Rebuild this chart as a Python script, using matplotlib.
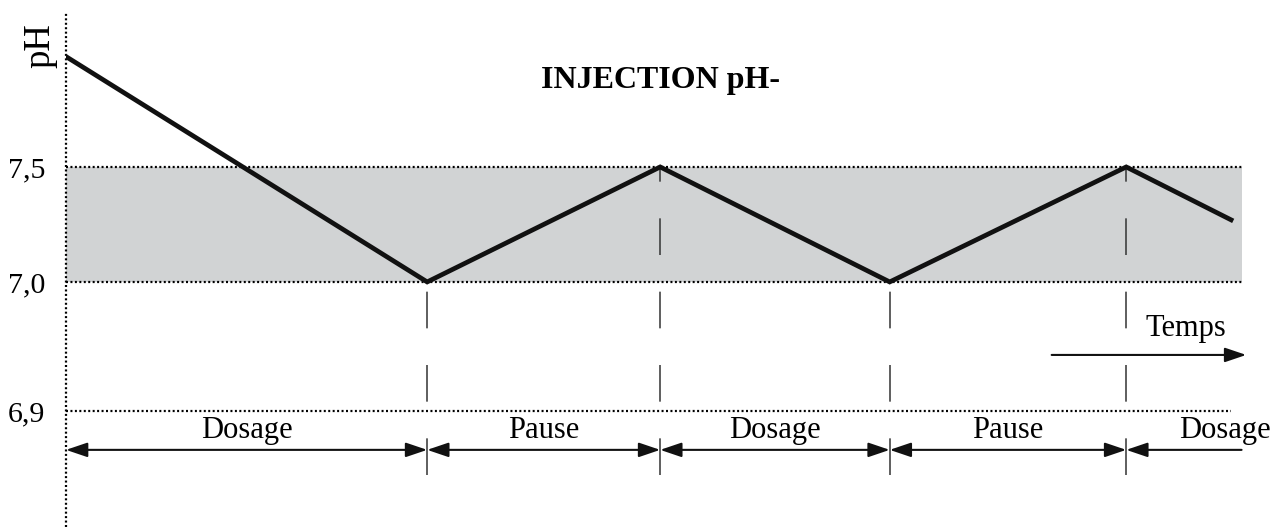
import numpy as np
import matplotlib
matplotlib.use("Agg")
import matplotlib.pyplot as plt

plt.rcParams["font.family"] = ["Liberation Serif", "DejaVu Serif"]

# schematic data
time = [0, 3.1, 5.1, 7.07, 9.1, 10.0]
ph = [7.98, 7.0, 7.5, 7.0, 7.5, 7.27]
phase_edges = [0, 3.1, 5.1, 7.07, 9.1, 10.09]
phase_labels = ["Dosage", "Pause", "Dosage", "Pause", "Dosage"]
tick_values = [6.9, 7.0, 7.5]
tick_labels = ["6,9", "7,0", "7,5"]
band_low, band_high = 7.0, 7.5
title = "INJECTION pH-"


# the pH axis is a sketch: the part below 7,0 is stretched
def fwd(p):
    p = np.asarray(p, dtype=float)
    return np.where(p >= 7.0, (p - 7.0) * 230, (p - 7.0) * 1290)


def inv(u):
    u = np.asarray(u, dtype=float)
    return np.where(u >= 0, 7.0 + u / 230, 7.0 + u / 1290)


fig = plt.figure(figsize=(12.87, 5.27), dpi=100)
ax = fig.add_axes([66 / 1287, 0, 1 - 66 / 1287, 1])
ax.set_yscale("function", functions=(fwd, inv))
ax.set_xlim(0, 10.48)
ax.set_ylim(6.81, 8.226)
for s in ax.spines.values():
    s.set_visible(False)
ax.set_xticks([])
ax.set_yticks(tick_values, labels=tick_labels, fontsize=21.5)
ax.tick_params(axis="y", length=0, pad=15)
ax.yaxis.set_minor_locator(matplotlib.ticker.NullLocator())

dots = (0, (0.9, 1.1))
t_end = phase_edges[-1]

# grey target band
ax.fill_between([0, t_end], band_low, band_high, color="#d1d3d4", lw=0, zorder=0)
ax.plot([0, t_end], [band_high, band_high], color="black", lw=1.6, ls=dots, zorder=1)
ax.plot([0, t_end], [band_low, band_low], color="black", lw=1.6, ls=dots, zorder=1)
ax.plot([0, 10.0], [tick_values[0], tick_values[0]], color="black", lw=1.6, ls=dots, zorder=1)

# vertical axis
ax.plot([0, 0], [6.81, 8.17], color="black", lw=1.6, ls=dots, clip_on=False, zorder=3)

# dashed guides at the turning points
arrow_y = 6.8698
for t, p in zip(time[1:-1], ph[1:-1]):
    ax.plot([t, t], [6.8504, p], color="#333333", lw=1.1, ls=(0, (24, 24)), zorder=2)

# pH curve
ax.plot(time, ph, color="#111111", lw=3.4, solid_joinstyle="miter", zorder=4)

# phase arrows
for i, lab in enumerate(phase_labels):
    a, b = phase_edges[i], phase_edges[i + 1]
    style = "<|-|>" if i < len(phase_labels) - 1 else "<|-"
    ax.annotate("", xy=(b, arrow_y), xytext=(a, arrow_y),
                arrowprops=dict(arrowstyle=style + ",head_length=0.65,head_width=0.22",
                                mutation_scale=20, color="#111111", lw=1.5,
                                shrinkA=0, shrinkB=0), annotation_clip=False)
    x = (a + b) / 2 if i < len(phase_labels) - 1 else a + 0.85
    ax.text(x, 6.885, lab, ha="center", va="center", fontsize=22)

# time arrow
ax.annotate("", xy=(10.13, 6.9434), xytext=(8.46, 6.9434),
            arrowprops=dict(arrowstyle="-|>,head_length=0.65,head_width=0.22",
                            mutation_scale=20, color="#111111", lw=1.5,
                            shrinkA=0, shrinkB=0))
ax.text(9.61, 6.964, "Temps", ha="center", va="center", fontsize=22)

ax.text(5.1, 7.878, title, ha="center", va="center", fontsize=23, fontweight="bold")
ax.text(-0.223, 8.03, "pH", ha="center", va="center", rotation=90, fontsize=26.5,
        clip_on=False)

fig.savefig("out.png", dpi=100)
